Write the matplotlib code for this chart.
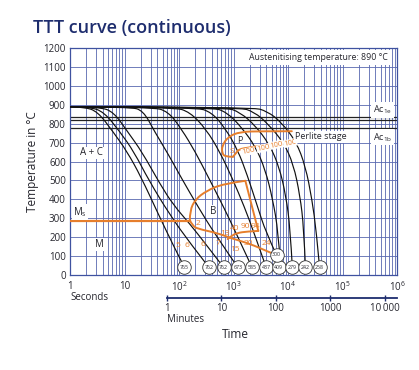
import numpy as np
import matplotlib
matplotlib.use('Agg')
import matplotlib.pyplot as plt
from matplotlib.path import Path
from matplotlib.patches import PathPatch
from matplotlib.ticker import LogLocator, FixedLocator, NullLocator, NullFormatter
import matplotlib.transforms as mtransforms

plt.rcParams['font.family'] = ['Open Sans', 'DejaVu Sans']
plt.rcParams['mathtext.default'] = 'regular'

GRID = '#5868b0'
NAVY = '#1e2d6e'
ORANGE = '#e67e2c'
TXT = '#26262e'

# cooling curves, time in s / temperature in degC
cool_t = [
    [1, 1.8, 3.2, 6.2, 11, 20, 42, 79, 126],
    [1, 2.3, 4.2, 8.3, 15, 28, 68, 158, 355],
    [1, 3.5, 6.3, 11.5, 21, 45, 79, 158, 316, 660],
    [1, 12.6, 22, 36, 63, 112, 224, 447, 1200],
    [1, 32, 63, 112, 200, 355, 631, 1122, 2190],
    [1, 79, 158, 316, 562, 955, 1585, 2400, 3980],
    [1, 200, 398, 708, 1200, 1778, 2630, 3981, 6170],
    [1, 398, 759, 1413, 2512, 3802, 5248, 6607, 7244],
    [1, 708, 1318, 2512, 4571, 6918, 9120, 10965, 12000],
    [1, 1259, 2399, 4266, 8318, 12589, 16596, 19498, 20900],
    [1, 2239, 4169, 7413, 14125, 20893, 27542, 33113, 38000],
]
cool_T = [
    [890, 888, 865, 756, 655, 520, 320, 155, 40],
    [890, 888, 862, 756, 650, 500, 318, 170, 40],
    [890, 888, 862, 756, 650, 480, 370, 270, 160, 40],
    [890, 888, 870, 756, 640, 510, 360, 220, 40],
    [890, 888, 865, 770, 650, 510, 370, 220, 40],
    [890, 888, 862, 770, 650, 510, 360, 220, 40],
    [890, 888, 860, 775, 660, 530, 380, 220, 106],
    [890, 888, 860, 780, 680, 560, 400, 230, 60],
    [890, 888, 860, 790, 690, 570, 420, 250, 40],
    [890, 888, 862, 800, 700, 585, 420, 250, 40],
    [890, 888, 865, 810, 705, 575, 400, 230, 40],
]

# hardness (HV) circles at curve ends
hv_t = [126, 355, 660, 1200, 2190, 3980, 6760, 12000, 20900, 38000, 6170]
hv_T = [40, 40, 40, 40, 40, 40, 40, 40, 40, 40, 106]
hv_val = ['765', '762', '762', '673', '585', '437', '409', '279', '242', '258', '300']

# pearlite region
perl_out_t = [11750, 3090, 1320, 795, 617, 617, 692, 977]
perl_out_T = [760, 760, 757, 731, 683, 646, 625, 625]
perl_in_t = [977, 1120, 1250, 2000, 4680, 11000]
perl_in_T = [625, 645, 665, 675, 690, 708]

# bainite region
ms_T = 288
bain_top_t = [158, 158, 200, 320, 640, 1650]
bain_top_T = [288, 340, 400, 445, 482, 498]
bain_right_t = [1650, 2850]
bain_right_T = [498, 233]
bain_end_t = [2850, 1780, 1150, 900, 780]
bain_end_T = [233, 230, 222, 205, 190]
bain_low_t = [158, 178, 214, 501, 891, 1995, 3981, 6000]
bain_low_T = [288, 262, 245, 222, 195, 165, 128, 106]

# phase percentages
pct_text = ['5', '6', '6', '2', '7', '13', '15', '30', '24', '40', '90', '94']
pct_t = [96, 140, 275, 224, 525, 695, 1070, 1860, 4070, 1070, 1620, 2470]
pct_T = [155, 155, 159, 270, 164, 221, 136, 168, 164, 247, 256, 256]
perl_pct_t = [1860, 3550, 6170, 10960]
perl_pct_T = [653, 671, 689, 698]

ac_lines = [835, 822, 777]
yticks = list(range(0, 1300, 100))
sec_ticks = [1, 10, 1e2, 1e3, 1e4, 1e5, 1e6]
sec_labels = ['1', '10', '$10^2$', '$10^3$', '$10^4$', '$10^5$', '$10^6$']
min_ticks = [1, 10, 100, 1000, 10000]
min_labels = ['1', '10', '100', '1000', '10\u2009000']


def smooth(ax, t, T, **kw):
    # quadratic bezier through midpoints (midpoint taken in log time)
    verts = [(t[0], T[0])]
    codes = [Path.MOVETO]
    n = len(t)
    if n == 2:
        verts.append((t[1], T[1]))
        codes.append(Path.LINETO)
    for i in range(1, n - 1):
        verts.append((t[i], T[i]))
        if i < n - 2:
            verts.append((np.sqrt(t[i] * t[i + 1]), (T[i] + T[i + 1]) / 2))
        else:
            verts.append((t[-1], T[-1]))
        codes += [Path.CURVE3, Path.CURVE3]
    ax.add_patch(PathPatch(Path(verts, codes), fill=False, **kw))


fig = plt.figure(figsize=(4.19, 3.70), dpi=100)
L, W = 70 / 419, 327 / 419
B, H = 1 - 275 / 370, 227 / 370
ax = fig.add_axes([L, B, W, H])
ax.set_xscale('log')
ax.set_xlim(1, 1e6)
ax.set_ylim(0, 1200)
ax.xaxis.set_major_locator(FixedLocator(sec_ticks))
ax.set_xticklabels(sec_labels)
ax.xaxis.set_minor_locator(LogLocator(base=10, subs=np.arange(2, 10)))
ax.xaxis.set_minor_formatter(NullFormatter())
ax.set_yticks(yticks)
ax.grid(which='both', color=GRID, lw=0.6, zorder=0)
ax.tick_params(which='both', length=0, labelsize=7, labelcolor=TXT)
ax.tick_params(axis='x', pad=4)
ax.tick_params(axis='y', pad=3)
for s in ax.spines.values():
    s.set_color('#3f52a0')
    s.set_linewidth(0.9)
ax.set_axisbelow(True)

ax.set_ylabel('Temperature in °C', fontsize=8.5, color=TXT)
ax.yaxis.set_label_coords(-0.095, 0.5)

for y in ac_lines:
    ax.axhline(y, color='#222222', lw=0.9, zorder=2)

for t, T in zip(cool_t, cool_T):
    smooth(ax, t, T, ec='#111111', lw=0.85, zorder=3)

ok = dict(ec=ORANGE, lw=1.4, zorder=4, capstyle='round', joinstyle='round')
ax.plot([1, bain_top_t[0]], [ms_T, ms_T], color=ORANGE, lw=1.6, zorder=4)
smooth(ax, bain_top_t, bain_top_T, **ok)
smooth(ax, bain_right_t, bain_right_T, **ok)
smooth(ax, bain_end_t, bain_end_T, **ok)
smooth(ax, bain_low_t, bain_low_T, **ok)
smooth(ax, perl_out_t, perl_out_T, **ok)
smooth(ax, perl_in_t, perl_in_T, **ok)

for s, t, T in zip(pct_text, pct_t, pct_T):
    ax.text(t, T, s, color=ORANGE, fontsize=6, ha='center', va='center', zorder=6)
for t, T in zip(perl_pct_t, perl_pct_T):
    ax.text(t, T, '100', color=ORANGE, fontsize=5.5, ha='center', va='center',
            rotation=12, zorder=6,
            bbox=dict(boxstyle='square,pad=0.05', fc='white', ec='none'))
ax.text(940, 652, 'S', color=ORANGE, fontsize=6, ha='center', va='center', zorder=6)
ax.text(1320, 712, 'P', color=TXT, fontsize=6.5, ha='center', va='center', zorder=6)

ax.scatter(hv_t, hv_T, s=95, facecolor='white', edgecolor='#333333', lw=0.6, zorder=7)
for t, T, v in zip(hv_t, hv_T, hv_val):
    ax.text(t, T, v, fontsize=3.8, ha='center', va='center', color=TXT, zorder=8)

wb = dict(boxstyle='square,pad=0.1', fc='white', ec='none')
ax.text(2.5, 645, 'A + C', fontsize=7, ha='center', va='center', color=TXT, bbox=wb, zorder=6)
ax.text(420, 335, 'B', fontsize=7, ha='center', va='center', color=TXT, bbox=wb, zorder=6)
ax.text(3.5, 160, 'M', fontsize=7, ha='center', va='center', color=TXT, bbox=wb, zorder=6)
ax.text(1.15, 335, '$M_s$', fontsize=7, ha='left', va='center', color=TXT, bbox=wb, zorder=6)
ax.text(13500, 731, 'Perlite stage', fontsize=6.5, ha='left', va='center', color=TXT,
        bbox=dict(boxstyle='square,pad=0.15', fc='white', ec='none'), zorder=6)

tr = mtransforms.blended_transform_factory(ax.transAxes, ax.transData)
ax.text(0.985, 874, '$Ac_{1e}$', transform=tr, fontsize=6.5, ha='right', va='center',
        color=TXT, bbox=dict(boxstyle='square,pad=0.2', fc='white', ec='none'), zorder=6)
ax.text(0.985, 728, '$Ac_{1b}$', transform=tr, fontsize=6.5, ha='right', va='center',
        color=TXT, bbox=dict(boxstyle='square,pad=0.2', fc='white', ec='none'), zorder=6)
ax.text(0.972, 1150, 'Austenitising temperature: 890 °C', transform=tr, fontsize=6.3,
        ha='right', va='center', color=TXT,
        bbox=dict(boxstyle='square,pad=0.35', fc='white', ec='none'), zorder=6)

# minutes axis
ax2 = fig.add_axes([L, 1 - 297.7 / 370, W, 1e-4])
ax2.set_xscale('log')
ax2.set_xlim(1 / 60, 1e6 / 60)
for s in ['top', 'left', 'right']:
    ax2.spines[s].set_visible(False)
ax2.spines['bottom'].set_bounds(1, 1e6 / 60)
ax2.spines['bottom'].set_color(NAVY)
ax2.spines['bottom'].set_linewidth(1.3)
ax2.patch.set_visible(False)
ax2.set_yticks([])
ax2.xaxis.set_major_locator(FixedLocator(min_ticks))
ax2.xaxis.set_minor_locator(NullLocator())
ax2.set_xticklabels(min_labels)
ax2.tick_params(axis='x', direction='inout', length=5, width=1, color=NAVY,
                labelsize=7, labelcolor=TXT, pad=1.5)

fig.text(70 / 419, 1 - 297 / 370, 'Seconds', fontsize=7, color=TXT, ha='left', va='center')
fig.text(167 / 419, 1 - 320 / 370, 'Minutes', fontsize=7, color=TXT, ha='left', va='center')
fig.text(235 / 419, 1 - 334 / 370, 'Time', fontsize=8.5, color=TXT, ha='center', va='center')
fig.text(33 / 419, 1 - 33 / 370, 'TTT curve (continuous)', fontsize=13, color=NAVY,
         ha='left', va='baseline', fontweight='semibold')

fig.savefig('out.png', dpi=100)
